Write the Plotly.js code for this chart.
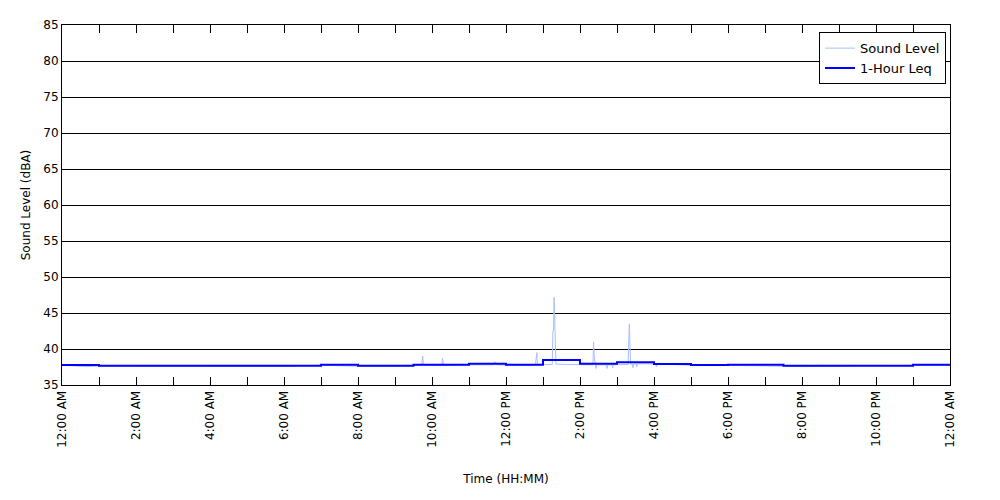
<!DOCTYPE html>
<html>
<head>
<meta charset="utf-8">
<script src="https://cdn.plot.ly/plotly-3.0.1.min.js"></script>
<style>html,body{margin:0;padding:0;background:#fff;}#chart{width:1000px;height:500px;}</style>
</head>
<body>
<div id="chart"></div>
<script>
// Sound level samples (time of day, dBA)
const slTime = ["00:00","00:20","00:40","01:00","02:00","03:00","04:00","05:00","06:00","07:00","08:00","09:00","09:30","09:43","09:44","09:45","09:46","10:00","10:16","10:17","10:18","10:19","11:00","11:40","11:41","11:44","11:45","12:00","12:30","12:47","12:48","12:50","12:51","13:00","13:15","13:16","13:17","13:18","13:19","13:20","13:21","13:40","14:00","14:21","14:22","14:23","14:25","14:26","14:27","14:43","14:44","14:45","14:52","14:53","14:54","15:00","15:18","15:19","15:20","15:21","15:22","15:25","15:26","15:27","15:31","15:32","15:33","15:45","16:03","16:04","16:05","16:30","17:00","18:00","19:00","20:00","21:00","22:00","23:00","24:00"];
const slValue = [37.75,37.6,37.55,37.65,37.65,37.65,37.65,37.6,37.6,37.75,37.6,37.6,37.7,37.75,38.4,39.0,37.75,37.7,37.7,38.7,38.2,37.7,37.8,37.8,38.2,38.1,37.8,37.75,37.7,37.75,38.0,39.5,37.8,37.85,37.85,42.5,42.5,47.2,42.0,41.0,37.9,37.85,37.85,37.8,41.0,39.1,37.8,37.3,37.8,37.8,37.3,37.8,37.8,37.4,37.8,37.85,37.85,40.6,43.5,40.6,37.9,37.9,37.4,37.9,37.95,37.5,37.95,37.95,37.9,37.5,37.9,37.85,37.75,37.75,37.7,37.55,37.65,37.65,37.75,37.75];

// 1-hour Leq steps (start time of each step, dBA)
const leqStart = ["00:00","01:00","05:00","07:00","08:00","09:30","11:00","12:00","13:00","14:00","15:00","16:00","17:00","18:00","19:30","23:00","24:00"];
const leqValue = [37.78,37.68,37.66,37.8,37.66,37.82,37.96,37.82,38.47,37.96,38.15,37.92,37.78,37.82,37.68,37.82,37.82];

// Axis tick positions and labels
const tickHours = ["00:00","01:00","02:00","03:00","04:00","05:00","06:00","07:00","08:00","09:00","10:00","11:00","12:00","13:00","14:00","15:00","16:00","17:00","18:00","19:00","20:00","21:00","22:00","23:00","24:00"];
const tickLabels = ["12:00 AM","","2:00 AM","","4:00 AM","","6:00 AM","","8:00 AM","","10:00 AM","","12:00 PM","","2:00 PM","","4:00 PM","","6:00 PM","","8:00 PM","","10:00 PM","","12:00 AM"];

function toDate(hm) {
  const p = hm.split(":");
  const h = parseInt(p[0], 10);
  if (h >= 24) return "2024-01-02 " + String(h - 24).padStart(2, "0") + ":" + p[1];
  return "2024-01-01 " + p[0] + ":" + p[1];
}

const font = {family: "'DejaVu Sans', sans-serif", size: 12, color: "#000"};

const traces = [
  {x: slTime.map(toDate), y: slValue, type: "scatter", mode: "lines", name: "Sound Level",
   line: {color: "#a9bfff", width: 1}},
  {x: leqStart.map(toDate), y: leqValue, type: "scatter", mode: "lines", name: "1-Hour Leq",
   line: {color: "#0000ff", width: 2, shape: "hv"}}
];

const layout = {
  width: 1000, height: 500,
  margin: {l: 62, r: 50, t: 25, b: 115},
  paper_bgcolor: "#fff", plot_bgcolor: "#fff",
  font: font,
  showlegend: true,
  legend: {x: 0.9955, y: 0.98, xanchor: "right", yanchor: "top", bgcolor: "#fff",
           bordercolor: "#000", borderwidth: 1,
           font: {family: font.family, size: 13, color: "#000"}},
  xaxis: {
    type: "date",
    range: [toDate("00:00"), toDate("24:00")],
    tickmode: "array", tickvals: tickHours.map(toDate), ticktext: tickLabels,
    tickangle: -90, ticks: "inside", ticklen: 8, tickcolor: "#000",
    showline: true, linecolor: "#000", linewidth: 1, mirror: "ticks",
    showgrid: false, zeroline: false,
    tickfont: font,
    title: {text: "Time (HH:MM)", font: font, standoff: 27}
  },
  yaxis: {
    range: [35, 85], dtick: 5, tick0: 35,
    ticks: "inside", ticklen: 8, tickcolor: "#000",
    showline: true, linecolor: "#000", linewidth: 1, mirror: "ticks",
    showgrid: true, gridcolor: "#000", gridwidth: 1, zeroline: false,
    tickfont: font,
    title: {text: "Sound Level (dBA)", font: font, standoff: 10}
  }
};

Plotly.newPlot("chart", traces, layout, {displayModeBar: false, staticPlot: true});
</script>
</body>
</html>
